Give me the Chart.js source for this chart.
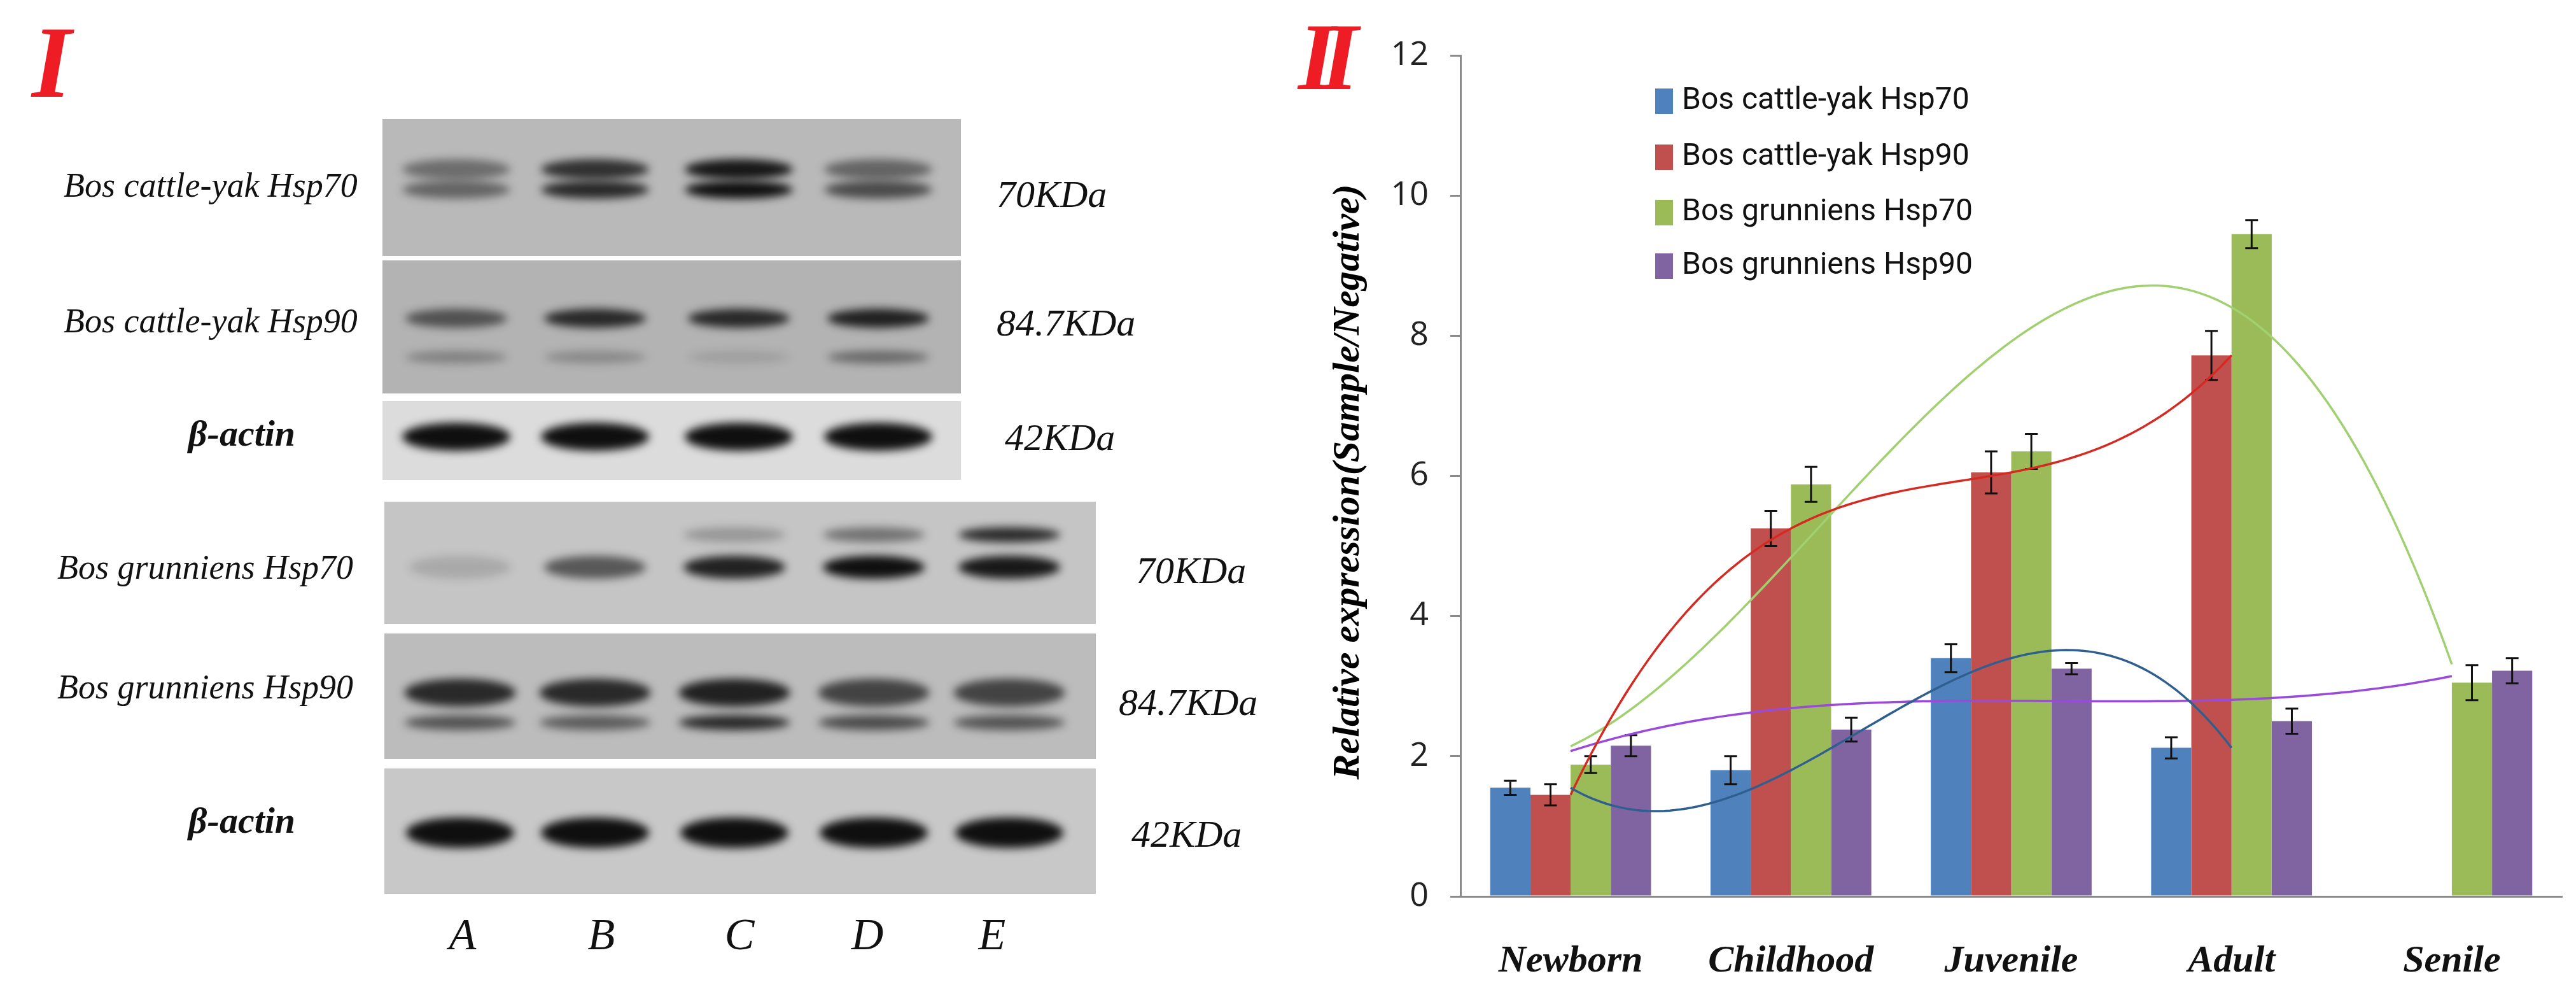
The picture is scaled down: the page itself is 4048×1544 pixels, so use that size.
<!DOCTYPE html>
<html><head><meta charset="utf-8">
<script src="https://cdn.jsdelivr.net/npm/chart.js@4.4.1/dist/chart.umd.min.js"></script>
<style>
html,body{margin:0;padding:0;background:#fff;}
#wrap{position:relative;width:4048px;height:1544px;overflow:hidden;background:#fff;}
.t{position:absolute;white-space:nowrap;font-family:"Liberation Serif",serif;font-style:italic;color:#111;transform:translate(0,-50%);}
.c{transform:translate(-50%,-50%);}
.roman{position:absolute;font-family:"Liberation Serif",serif;font-style:italic;font-weight:bold;color:#ee1c24;}
#blot{position:absolute;left:0;top:0;}
.cw{position:absolute;left:1990px;top:0;width:2058px;height:1544px;}
</style></head>
<body><div id="wrap">
<canvas id="blot" width="1990" height="1544"></canvas>
<div class="roman" style="left:50px;top:18px;font-size:160px;line-height:160px;">I</div>
<div class="roman" style="left:2040px;top:14px;font-size:150px;line-height:150px;letter-spacing:-22px;">II</div>

<div class="t" style="left:100px;top:291px;font-size:54px;">Bos cattle-yak Hsp70</div>
<div class="t" style="left:100px;top:504px;font-size:54px;">Bos cattle-yak Hsp90</div>
<div class="t c" style="left:380px;top:680px;font-size:58px;font-weight:bold;">β-actin</div>
<div class="t" style="left:90px;top:891px;font-size:54px;">Bos grunniens Hsp70</div>
<div class="t" style="left:90px;top:1079px;font-size:54px;">Bos grunniens Hsp90</div>
<div class="t c" style="left:380px;top:1288px;font-size:58px;font-weight:bold;">β-actin</div>

<div class="t" style="left:1566px;top:305px;font-size:60px;">70KDa</div>
<div class="t" style="left:1566px;top:507px;font-size:60px;">84.7KDa</div>
<div class="t" style="left:1579px;top:687px;font-size:60px;">42KDa</div>
<div class="t" style="left:1785px;top:896px;font-size:60px;">70KDa</div>
<div class="t" style="left:1758px;top:1103px;font-size:60px;">84.7KDa</div>
<div class="t" style="left:1778px;top:1310px;font-size:60px;">42KDa</div>

<div class="t c" style="left:727px;top:1468px;font-size:70px;">A</div>
<div class="t c" style="left:945px;top:1468px;font-size:70px;">B</div>
<div class="t c" style="left:1162px;top:1468px;font-size:70px;">C</div>
<div class="t c" style="left:1363px;top:1468px;font-size:70px;">D</div>
<div class="t c" style="left:1559px;top:1468px;font-size:70px;">E</div>

<div class="t" style="left:2115px;top:757px;font-size:60px;font-weight:bold;color:#000;transform:translate(-50%,-50%) rotate(-90deg);">Relative expression(Sample/Negative)</div>
<div class="cw"><canvas id="chart"></canvas></div>
<div class="cw"><canvas id="trend"></canvas></div>
</div>
<script>
// ---- data ----
const categories = ["Newborn","Childhood","Juvenile","Adult","Senile"];
const seriesNames = ["Bos cattle-yak Hsp70","Bos cattle-yak Hsp90","Bos grunniens Hsp70","Bos grunniens Hsp90"];
const cattleYakHsp70 = [1.55, 1.80, 3.40, 2.12, null];
const cattleYakHsp90 = [1.45, 5.25, 6.05, 7.72, null];
const grunniensHsp70 = [1.88, 5.88, 6.35, 9.45, 3.05];
const grunniensHsp90 = [2.15, 2.38, 3.25, 2.50, 3.22];
const errCattleYakHsp70 = [0.10, 0.20, 0.20, 0.15, null];
const errCattleYakHsp90 = [0.15, 0.25, 0.30, 0.35, null];
const errGrunniensHsp70 = [0.12, 0.25, 0.25, 0.20, 0.25];
const errGrunniensHsp90 = [0.15, 0.17, 0.08, 0.18, 0.18];
const yTicks = [0,2,4,6,8,10,12];

const barColors = ["#4f81bd","#c0504d","#9bbb59","#8064a2"];
const trendColors = ["#2f5f8f","#d42a22","#a0d070","#9a4ad8"];

// ---- blot drawing (decorative image panel) ----
(function(){
  const c=document.getElementById('blot').getContext('2d');
  const panels=[
    {x:601,y:187,w:909,h:215,bg:'#b9b9b9',lanes:[717,935,1161,1380],bands:[[266,[0.45,0.8,0.95,0.5],16],[298,[0.5,0.85,1,0.65],14]],bw:170},
    {x:601,y:409,w:909,h:209,bg:'#b3b3b3',lanes:[717,935,1161,1380],bands:[[500,[0.6,0.85,0.85,0.9],15],[561,[0.3,0.25,0.12,0.45],10]],bw:160},
    {x:601,y:630,w:909,h:124,bg:'#dcdcdc',lanes:[717,935,1161,1380],bands:[[686,[1,1,1,1],22]],bw:170},
    {x:604,y:788,w:1118,h:192,bg:'#c5c5c5',lanes:[723,935,1154,1373,1586],bands:[[891,[0.15,0.6,0.9,1,0.95],18],[840,[0,0,0.25,0.45,0.85],12]],bw:160},
    {x:604,y:995,w:1118,h:197,bg:'#bcbcbc',lanes:[723,935,1154,1373,1586],bands:[[1088,[0.85,0.85,0.9,0.7,0.7],22],[1135,[0.6,0.55,0.85,0.65,0.6],12]],bw:175},
    {x:604,y:1207,w:1118,h:197,bg:'#c8c8c8',lanes:[723,935,1154,1373,1586],bands:[[1308,[1,1,1,1,1],24]],bw:170}
  ];
  panels.forEach(p=>{
    c.fillStyle=p.bg;c.fillRect(p.x,p.y,p.w,p.h);
    c.save();c.beginPath();c.rect(p.x,p.y,p.w,p.h);c.clip();
    c.filter='blur(7px)';
    p.bands.forEach(([by,ints,hh])=>{
      p.lanes.forEach((lx,i)=>{
        const a=ints[i]; if(!a) return;
        c.fillStyle='rgba(15,15,15,'+a+')';
        c.beginPath();c.ellipse(lx,by,p.bw/2,hh,0,0,Math.PI*2);c.fill();
      });
    });
    c.restore();
  });
})();

// ---- polynomial least squares trend ----
function polyFit(xs,ys,deg){
  const n=deg+1,A=[],b=[];
  for(let i=0;i<n;i++){A.push(new Array(n).fill(0));b.push(0);}
  xs.forEach((x,k)=>{for(let i=0;i<n;i++){b[i]+=ys[k]*Math.pow(x,i);for(let j=0;j<n;j++)A[i][j]+=Math.pow(x,i+j);}});
  for(let i=0;i<n;i++){let m=i;for(let r=i+1;r<n;r++)if(Math.abs(A[r][i])>Math.abs(A[m][i]))m=r;
    [A[i],A[m]]=[A[m],A[i]];[b[i],b[m]]=[b[m],b[i]];
    for(let r=0;r<n;r++){if(r===i)continue;const f=A[r][i]/A[i][i];for(let j=i;j<n;j++)A[r][j]-=f*A[i][j];b[r]-=f*b[i];}}
  return b.map((v,i)=>v/A[i][i]);
}
function trend(vals){
  const xs=[],ys=[];vals.forEach((v,i)=>{if(v!=null){xs.push(i+1);ys.push(v);}});
  const co=polyFit(xs,ys,3);const pts=[];const x0=xs[0],x1=xs[xs.length-1];
  for(let k=0;k<=120;k++){const x=x0+(x1-x0)*k/120;pts.push({x:x,y:co.reduce((s,c,i)=>s+c*Math.pow(x,i),0)});}
  return pts;
}

const values=[cattleYakHsp70,cattleYakHsp90,grunniensHsp70,grunniensHsp90];
const errs=[errCattleYakHsp70,errCattleYakHsp90,errGrunniensHsp70,errGrunniensHsp90];

const errorBars={id:'errorBars',afterDatasetsDraw(ch){
  const c=ch.ctx,y=ch.scales.y;c.save();c.strokeStyle='#111';c.lineWidth=3;
  for(let i=0;i<4;i++){const meta=ch.getDatasetMeta(i);
    meta.data.forEach((el,k)=>{const v=values[i][k],e=errs[i][k];if(v==null||e==null)return;
      const x=el.x,yt=y.getPixelForValue(v+e),yb=y.getPixelForValue(v-e);
      c.beginPath();c.moveTo(x,yt);c.lineTo(x,yb);c.moveTo(x-10,yt);c.lineTo(x+10,yt);c.moveTo(x-10,yb);c.lineTo(x+10,yb);c.stroke();});}
  c.restore();}};

const legendPlugin={id:'lg',afterDraw(ch){
  const c=ch.ctx;c.save();const left=2601-1990,tops=[159,247,334,418];
  c.font='48px "Roboto", sans-serif';c.textBaseline='middle';
  seriesNames.forEach((n,i)=>{c.fillStyle=barColors[i];c.fillRect(left,tops[i]-20,28,40);c.fillStyle='#111';c.fillText(n,left+42,tops[i]);});
  c.restore();}};

const common={responsive:true,maintainAspectRatio:false,animation:false,
  layout:{padding:{top:87,right:22,left:0,bottom:0}},
  plugins:{legend:{display:false},tooltip:{enabled:false}}};

new Chart(document.getElementById('chart'),{
  type:'bar',
  data:{labels:categories,datasets:values.map((v,i)=>({label:seriesNames[i],data:v,backgroundColor:barColors[i],borderWidth:0}))},
  options:Object.assign({},common,{
    categoryPercentage:0.73,barPercentage:1,
    scales:{
      x:{offset:true,grid:{display:false},border:{color:'#8a8a8a',width:3},
        ticks:{padding:58,color:'#111',font:{family:'"Liberation Serif", serif',style:'italic',weight:'bold',size:60}},
        afterFit(s){s.height=136;}},
      y:{min:0,max:12,afterBuildTicks(s){s.ticks=yTicks.map(v=>({value:v}));},
        grid:{drawOnChartArea:false,drawTicks:true,tickLength:16,color:'#8a8a8a',lineWidth:3},
        border:{color:'#8a8a8a',width:3},
        ticks:{padding:34,color:'#222',font:{family:'"Open Sans", sans-serif',size:52}},
        afterFit(s){s.width=305;}}
    }}),
  plugins:[errorBars,legendPlugin]
});

new Chart(document.getElementById('trend'),{
  type:'line',
  data:{datasets:values.map((v,i)=>({data:trend(v),borderColor:trendColors[i],borderWidth:3.5,pointRadius:0,tension:0}))},
  options:Object.assign({},common,{
    scales:{
      x:{type:'linear',min:0.5,max:5.5,grid:{display:false},border:{display:false},ticks:{display:false},afterFit(s){s.height=136;}},
      y:{min:0,max:12,grid:{display:false},border:{display:false},ticks:{display:false},afterFit(s){s.width=305;}}
    }})
});
</script>
</body></html>
